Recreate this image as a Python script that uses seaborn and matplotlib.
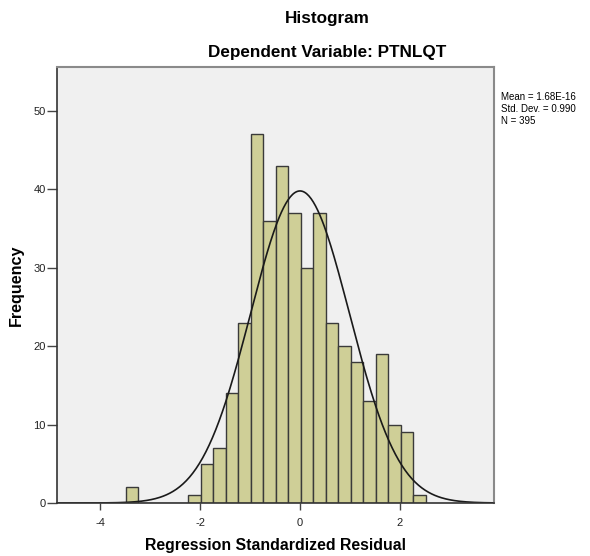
import numpy as np
import pandas as pd
import matplotlib.pyplot as plt
import seaborn as sns

# Histogram data (bin width 0.25)
bin_edges = [-3.49, -3.24, -2.99, -2.74, -2.49, -2.24, -1.99, -1.74, -1.49, -1.24,
             -0.99, -0.74, -0.49, -0.24, 0.01, 0.26, 0.51, 0.76, 1.01, 1.26,
             1.51, 1.76, 2.01, 2.26, 2.51]
counts = [2, 0, 0, 0, 0, 1, 5, 7, 14, 23, 47, 36, 43, 37, 30, 37, 23, 20, 18, 13,
          19, 10, 9, 1]
x_ticks = [-4, -2, 0, 2]
y_ticks = [0, 10, 20, 30, 40, 50]

mean_val = 1.68e-16
std_val = 0.990
n_obs = 395

sns.set_theme(style="white")
plt.rcParams['font.family'] = ['Liberation Sans', 'DejaVu Sans']
plt.rcParams['text.color'] = 'black'
plt.rcParams['axes.labelcolor'] = 'black'

df = pd.DataFrame({
    'centro': (np.array(bin_edges[:-1]) + np.array(bin_edges[1:])) / 2,
    'freq': counts,
})

fig = plt.figure(figsize=(5.9, 5.56), dpi=100)
ax = fig.add_axes([57 / 590, 53 / 556, 437 / 590, 436 / 556])
ax.set_facecolor('#F0F0F0')

sns.histplot(data=df, x='centro', weights='freq', bins=bin_edges, ax=ax,
             color='#CFCF97', edgecolor='#3A3A3A', linewidth=1.0, alpha=1)

# curva normal ajustada (media / desvio / N)
xs = np.linspace(-4.86, 3.88, 400)
largura = bin_edges[1] - bin_edges[0]
ys = n_obs * largura * np.exp(-0.5 * ((xs - mean_val) / std_val) ** 2) / (std_val * np.sqrt(2 * np.pi))
sns.lineplot(x=xs, y=ys, ax=ax, color='#1A1A1A', linewidth=1.2)

ax.set_xlim(-4.86, 3.88)
ax.set_ylim(0, 55.6)
ax.set_xticks(x_ticks)
ax.set_xticklabels([str(t) for t in x_ticks])
ax.set_yticks(y_ticks)
ax.tick_params(axis='both', direction='out', width=1, color='#444444',
               labelsize=8, labelcolor='#222222')
ax.tick_params(axis='x', bottom=True, length=5, pad=6)
ax.tick_params(axis='y', left=True, length=7, pad=1)

for lado in ['top', 'right']:
    ax.spines[lado].set_color('#8A8A8A')
    ax.spines[lado].set_linewidth(1.5)
for lado in ['left', 'bottom']:
    ax.spines[lado].set_color('#333333')
    ax.spines[lado].set_linewidth(1.2)

ax.set_xlabel('Regression Standardized Residual', fontsize=11.4, fontweight='bold', labelpad=7)
ax.set_ylabel('Frequency', fontsize=11.6, fontweight='bold', labelpad=7)

fig.text(327 / 590, 1 - 18 / 556, 'Histogram', ha='center', va='center',
         fontsize=12.3, fontweight='bold')
fig.text(327 / 590, 1 - 53 / 556, 'Dependent Variable: PTNLQT', ha='center', va='center',
         fontsize=12.3, fontweight='bold')

fig.text(501 / 590, 1 - 109 / 556,
         f'Mean = {mean_val:.2E}\nStd. Dev. = {std_val:.3f}\nN = {n_obs}',
         ha='left', va='center', fontsize=7, linespacing=1.3)

fig.savefig('out.png', dpi=100, facecolor='white')
